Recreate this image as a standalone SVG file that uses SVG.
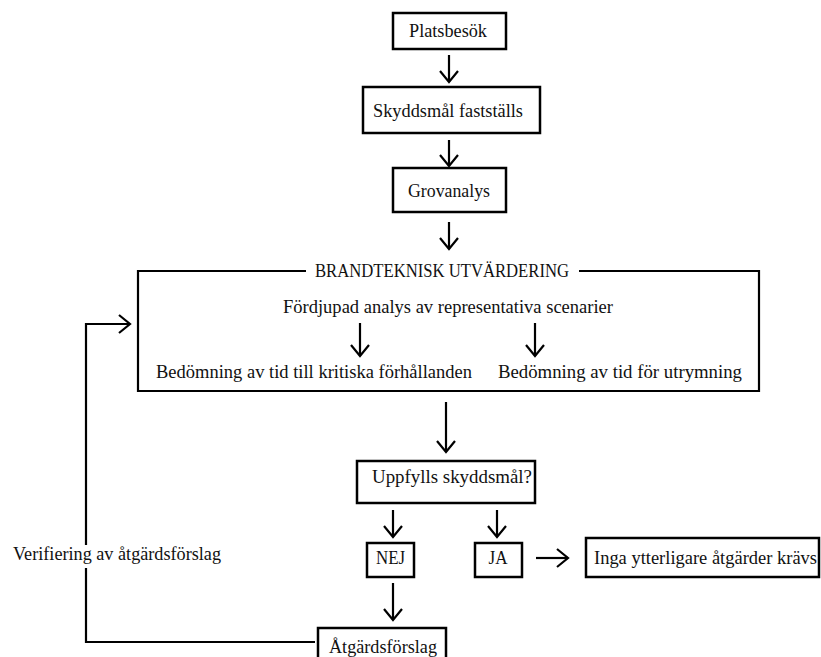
<svg xmlns="http://www.w3.org/2000/svg" width="821" height="657" viewBox="0 0 821 657">
<style>
text{font-family:"Liberation Serif","Times New Roman",serif;font-size:18px;fill:#111;}
.box{fill:#fff;stroke:#000;stroke-width:2.5;}
.ln{fill:none;stroke:#000;stroke-width:2.2;}
.c{text-anchor:middle;}
</style>
<defs>
<marker id="ah" markerUnits="userSpaceOnUse" viewBox="0 0 14 22" refX="12" refY="11" markerWidth="14" markerHeight="22" orient="auto">
<path d="M1,2 L12,11 L1,20" fill="none" stroke="#000" stroke-width="2.2"/>
</marker>
</defs>
<rect width="821" height="657" fill="#fff"/>
<g id="connectors">
<path class="ln" d="M449,55 V82" marker-end="url(#ah)"/>
<path class="ln" d="M449,140 V166" marker-end="url(#ah)"/>
<path class="ln" d="M449,222 V249" marker-end="url(#ah)"/>
<path class="ln" d="M360,323 V356" marker-end="url(#ah)"/>
<path class="ln" d="M535,323 V356" marker-end="url(#ah)"/>
<path class="ln" d="M446,402 V452" marker-end="url(#ah)"/>
<path class="ln" d="M393,510 V537" marker-end="url(#ah)"/>
<path class="ln" d="M497,510 V537" marker-end="url(#ah)"/>
<path class="ln" d="M536,558 H568" marker-end="url(#ah)"/>
<path class="ln" d="M393,583 V620" marker-end="url(#ah)"/>
<path class="ln" d="M315,642 H86 V568"/>
<path class="ln" d="M86,545 V324 H130" marker-end="url(#ah)"/>
<text x="13" y="560" textLength="208" lengthAdjust="spacingAndGlyphs">Verifiering av åtgärdsförslag</text>
</g>
<g id="platsbesok">
<rect class="box" x="393" y="13" width="113" height="36"/>
<text class="c" x="448" y="37" textLength="78" lengthAdjust="spacingAndGlyphs">Platsbesök</text>
</g>
<g id="skyddsmal">
<rect class="box" x="363" y="87" width="177" height="46"/>
<text class="c" x="448" y="117" textLength="150" lengthAdjust="spacingAndGlyphs">Skyddsmål fastställs</text>
</g>
<g id="grovanalys">
<rect class="box" x="393" y="168" width="113" height="44"/>
<text class="c" x="449" y="197" textLength="82" lengthAdjust="spacingAndGlyphs">Grovanalys</text>
</g>
<g id="brandteknisk">
<path class="ln" d="M306,271 H138 V391 H759 V271 H579" stroke-width="2.5"/>
<text class="c" x="442" y="277" textLength="254" lengthAdjust="spacingAndGlyphs">BRANDTEKNISK UTVÄRDERING</text>
<text class="c" x="448" y="313" textLength="330" lengthAdjust="spacingAndGlyphs">Fördjupad analys av representativa scenarier</text>
<text x="156" y="378" textLength="316" lengthAdjust="spacingAndGlyphs">Bedömning av tid till kritiska förhållanden</text>
<text x="498" y="378" textLength="244" lengthAdjust="spacingAndGlyphs">Bedömning av tid för utrymning</text>
</g>
<g id="uppfylls">
<rect class="box" x="357" y="461" width="178" height="42"/>
<text class="c" x="452" y="483" textLength="160" lengthAdjust="spacingAndGlyphs">Uppfylls skyddsmål?</text>
</g>
<g id="nej">
<rect class="box" x="367" y="543" width="47" height="34"/>
<text class="c" x="390.5" y="564" textLength="29" lengthAdjust="spacingAndGlyphs">NEJ</text>
</g>
<g id="ja">
<rect class="box" x="475" y="543" width="47" height="34"/>
<text class="c" x="498" y="564" textLength="19" lengthAdjust="spacingAndGlyphs">JA</text>
</g>
<g id="inga">
<rect class="box" x="586" y="538" width="233" height="39"/>
<text x="594" y="564" textLength="223" lengthAdjust="spacingAndGlyphs">Inga ytterligare åtgärder krävs</text>
</g>
<g id="atgardsforslag">
<rect class="box" x="318" y="628" width="128" height="40"/>
<text x="329" y="653" textLength="108" lengthAdjust="spacingAndGlyphs">Åtgärdsförslag</text>
</g>
</svg>
